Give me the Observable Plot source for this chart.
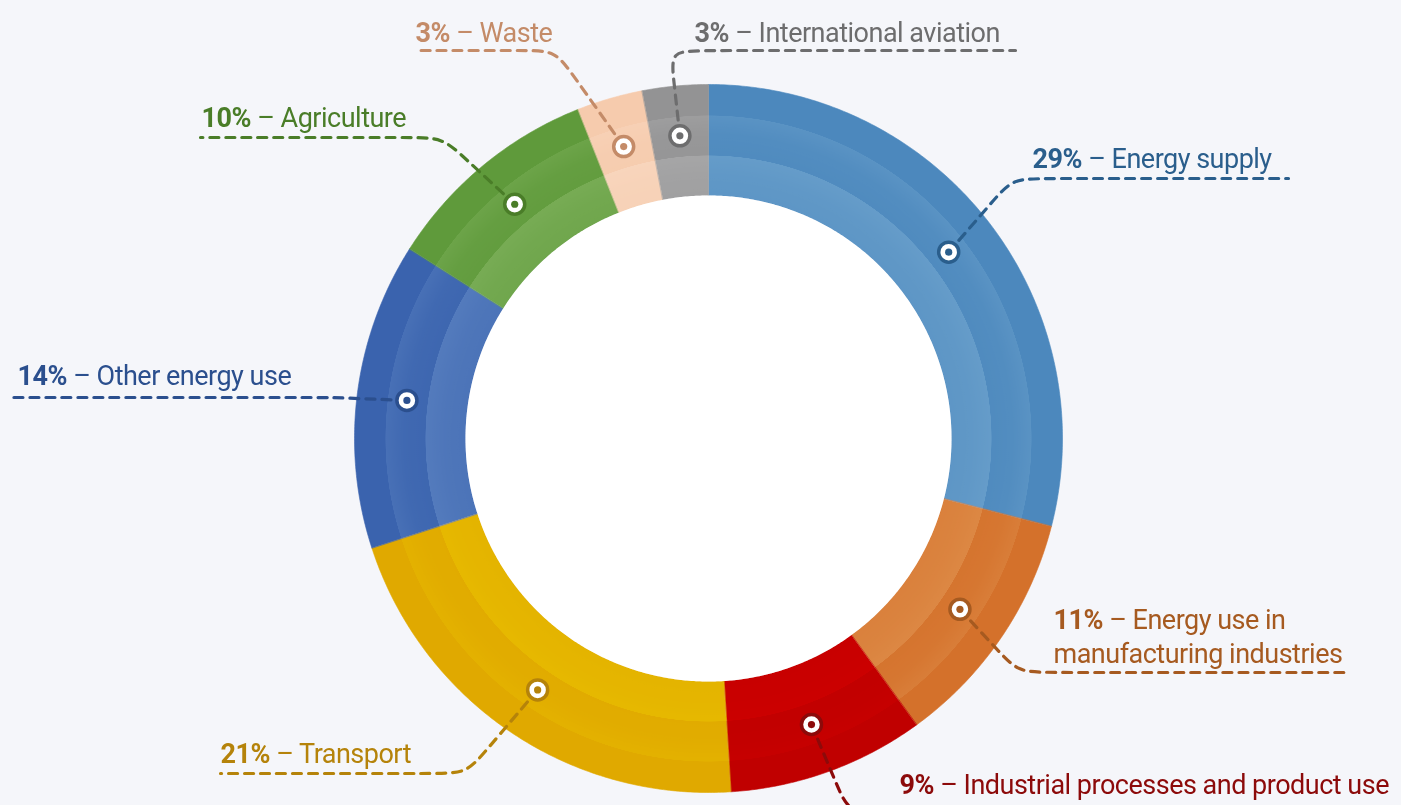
<!DOCTYPE html>
<html><head><meta charset="utf-8">
<script src="https://cdn.jsdelivr.net/npm/d3@7"></script>
<script src="https://cdn.jsdelivr.net/npm/@observablehq/plot@0.6"></script>
<style>
html,body{margin:0;padding:0;background:#f5f6fa;}
#chart{width:1401px;height:805px;overflow:hidden;}
#chart svg{display:block;background:#f5f6fa;}
#chart svg text{letter-spacing:-0.5px;}
</style></head><body><div id="chart"></div>
<script>
// ---- data ----
const categories = ["Energy supply","Energy use in manufacturing industries","Industrial processes and product use","Transport","Other energy use","Agriculture","Waste","International aviation"];
const shares = [29, 11, 9, 21, 14, 10, 3, 3];
const labelLines = [["Energy supply"],["Energy use in","manufacturing industries"],["Industrial processes and product use"],["Transport"],["Other energy use"],["Agriculture"],["Waste"],["International aviation"]];

// ---- styles ----
const fillColors = ["#4c88bd","#d4712b","#c00000","#e0a900","#3a63ae","#5f9a3b","#f6cbad","#939394"];
const textColors = ["#2a5e8c","#a65a20","#8c0a0a","#b5830a","#2b4f8e","#4a7d28","#c48b68","#6d6d6e"];
const FONT = 'Roboto,"Noto Sans",sans-serif';
const FS = 27;
const LS = -0.5;

// ---- layout ----
const W = 1401, H = 805;
const CX = 708, CY = 438, R_OUT = 354, R_IN = 243, R_DOT = 304;
// label placement: text start, baseline, underline y, leader corner x, underline end x
const labelLayout = [
  {textX:1032, base:167, lineY:178, cornerX:1012, endX:1288},
  {textX:1053, base:628, lineY:672, cornerX:1018, endX:1350},
  {textX:899,  base:793, lineY:812, cornerX:848,  endX:1401},
  {textX:220,  base:762, lineY:773, cornerX:466,  endX:220},
  {textX:17,   base:384, lineY:397, cornerX:332,  endX:7},
  {textX:201,  base:126, lineY:137, cornerX:442,  endX:200},
  {textX:415,  base:41,  lineY:50,  cornerX:555,  endX:415},
  {textX:694,  base:41,  lineY:50,  cornerX:670,  endX:1015}
];

const polar = (r, a) => [CX + r * Math.sin(a), CY - r * Math.cos(a)];
const total = d3.sum(shares);
let cum = 0;
const segs = categories.map((c, i) => {
  const a0 = cum / total * 2 * Math.PI; cum += shares[i];
  const a1 = cum / total * 2 * Math.PI;
  return {c, i, a0, a1, mid: (a0 + a1) / 2};
});

// ring polygons
const ringRows = [];
for (const s of segs) {
  const n = Math.max(2, Math.ceil((s.a1 - s.a0) / (Math.PI / 360)));
  for (let k = 0; k <= n; k++) { const [x, y] = polar(R_OUT, s.a0 + (s.a1 - s.a0) * k / n); ringRows.push({key: s.c, x, y, fill: fillColors[s.i]}); }
  for (let k = n; k >= 0; k--) { const [x, y] = polar(R_IN, s.a0 + (s.a1 - s.a0) * k / n); ringRows.push({key: s.c, x, y, fill: fillColors[s.i]}); }
}
const circleRows = (r) => d3.range(0, 721).map(k => { const [x, y] = polar(r, k / 720 * 2 * Math.PI); return {x, y}; });

// dots
const dotRows = segs.map(s => { const [x, y] = polar(R_DOT, s.mid); return {x, y, color: textColors[s.i]}; });

// leaders
const leaderRows = [];
segs.forEach((s, i) => {
  const L = labelLayout[i];
  const [dx, dy] = polar(R_DOT, s.mid);
  const vx = L.cornerX - dx, vy = L.lineY - dy, d = Math.hypot(vx, vy);
  const k = Math.min(30, d * 0.45);
  const dir = Math.sign(L.endX - L.cornerX);
  const pts = [[dx, dy], [L.cornerX - vx / d * k, L.lineY - vy / d * k], [L.cornerX, L.lineY], [L.cornerX + dir * 30, L.lineY], [L.endX, L.lineY]];
  pts.forEach(([x, y]) => leaderRows.push({key: s.c, x, y, color: textColors[i]}));
});

// labels
const ctx = document.createElement("canvas").getContext("2d");
ctx.font = `bold ${FS}px ${FONT}`;
const pctRows = [], restRows = [];
segs.forEach((s, i) => {
  const L = labelLayout[i];
  const pct = shares[i] + "%";
  const w = ctx.measureText(pct).width + LS * pct.length;
  pctRows.push({x: L.textX, y: L.base - 0.32 * FS, text: pct, color: textColors[i]});
  restRows.push({x: L.textX + w, y: L.base - 0.32 * FS, text: " \u2013 " + labelLines[i][0], color: textColors[i]});
  labelLines[i].slice(1).forEach((t, j) => restRows.push({x: L.textX, y: L.base + (j + 1) * 34 - 0.32 * FS, text: t, color: textColors[i]}));
});

const plot = Plot.plot({
  width: W, height: H,
  margin: 0,
  x: {domain: [0, W], range: [0, W], axis: null},
  y: {domain: [0, H], range: [0, H], axis: null},
  color: {type: "identity"},
  style: {background: "#f5f6fa", fontFamily: FONT},
  marks: [
    Plot.line(ringRows, {x: "x", y: "y", z: "key", fill: "fill", stroke: "fill", strokeWidth: 0.6, curve: "linear-closed"}),
    Plot.line(circleRows(R_OUT), {x: "x", y: "y", fill: "url(#ringShade)", stroke: "none", curve: "linear-closed", mixBlendMode: "soft-light"}),
    Plot.line(circleRows(R_IN), {x: "x", y: "y", fill: "white", stroke: "none", curve: "linear-closed"}),
    Plot.line(leaderRows, {x: "x", y: "y", z: "key", stroke: "color", strokeWidth: 3.2, strokeDasharray: "9,7", curve: "basis"}),
    Plot.dot(dotRows, {x: "x", y: "y", r: 10, fill: "white", stroke: "color", strokeWidth: 3.5}),
    Plot.dot(dotRows, {x: "x", y: "y", r: 3.6, fill: "color", stroke: "none"}),
    Plot.text(pctRows, {x: "x", y: "y", text: "text", fill: "color", textAnchor: "start", fontSize: FS, fontWeight: "bold"}),
    Plot.text(restRows, {x: "x", y: "y", text: "text", fill: "color", textAnchor: "start", fontSize: FS})
  ]
});

// radial shading for the inner bands
const defs = d3.create("svg:defs");
const g = defs.append("radialGradient").attr("id", "ringShade").attr("cx", "50%").attr("cy", "50%").attr("r", "50%");
[[0, 0.28], [0.686, 0.28], [0.745, 0.32], [0.799, 0.40], [0.80, 0.06], [0.86, 0.10], [0.912, 0.22], [0.913, 0], [1, 0]]
  .forEach(([o, a]) => g.append("stop").attr("offset", o).attr("stop-color", "white").attr("stop-opacity", a));
plot.insertBefore(defs.node(), plot.firstChild);
document.getElementById("chart").appendChild(plot);
</script>
</body></html>
